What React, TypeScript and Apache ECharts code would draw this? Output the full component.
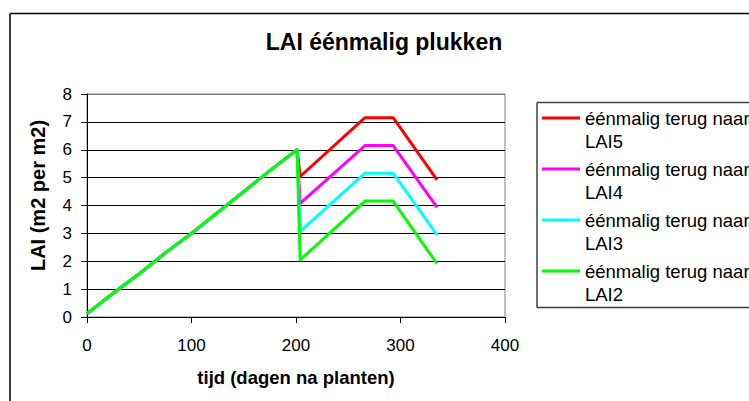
import React, { useEffect, useRef } from "react";
import * as echarts from "echarts";

// Shared growth phase (days after planting, LAI)
const growthDays = [0, 25, 50, 75, 100, 125, 150, 175, 201];
const growthLAI = [0.12, 0.85, 1.55, 2.3, 3.0, 3.75, 4.5, 5.25, 6.0];

// After the single picking
const regrowthDays = [204, 266, 293, 335];
const lai5 = [5.04, 7.15, 7.15, 4.92];
const lai4 = [4.08, 6.15, 6.15, 3.93];
const lai3 = [3.07, 5.16, 5.16, 2.95];
const lai2 = [2.05, 4.16, 4.16, 1.91];

const seriesNames = [
  "éénmalig terug naar LAI5",
  "éénmalig terug naar LAI4",
  "éénmalig terug naar LAI3",
  "éénmalig terug naar LAI2",
];
const seriesValues = [lai5, lai4, lai3, lai2];
const seriesColors = ["#FF0000", "#FF00FF", "#00FFFF", "#00FF00"];

const titleText = "LAI éénmalig plukken";
const xName = "tijd (dagen na planten)";
const yName = "LAI (m2 per m2)";

const FONT = "'Liberation Sans', Arial, Helvetica, sans-serif";
const LEGEND_ICON =
  "path://M0,9L38,9L38,12L0,12Z M0,0L38,0L38,0.01L0,0.01Z M0,45L38,45L38,45.01L0,45.01Z";

export default function App() {
  const ref = useRef<HTMLDivElement>(null);

  useEffect(() => {
    if (!ref.current) return;
    const chart = echarts.init(ref.current, null, { renderer: "svg" });

    const series = seriesNames.map((name, s) => {
      const data: [number, number][] = growthDays.map((d, i) => [d, growthLAI[i]]);
      regrowthDays.forEach((d, i) => data.push([d, seriesValues[s][i]]));
      return {
        name,
        type: "line",
        data,
        symbol: "none",
        lineStyle: { color: seriesColors[s], width: 3, join: "round" },
        itemStyle: { color: seriesColors[s] },
        z: 2 + s,
      };
    });

    const lineStyle = (stroke: string) => ({ stroke, lineWidth: 1.5 });

    chart.setOption({
      animation: false,
      backgroundColor: "#ffffff",
      textStyle: { fontFamily: FONT },
      title: {
        text: titleText,
        left: 384,
        top: 42,
        textAlign: "center",
        textVerticalAlign: "middle",
        padding: 0,
        textStyle: { fontSize: 23, fontWeight: "bold", color: "#000", fontFamily: FONT },
      },
      grid: {
        left: 87,
        top: 94,
        right: 244,
        bottom: 84,
        show: true,
        borderColor: "#808080",
        borderWidth: 1,
        backgroundColor: "transparent",
      },
      legend: {
        orient: "vertical",
        left: 537,
        top: 102,
        padding: [5.5, 4, 1.5, 5],
        itemWidth: 38,
        itemHeight: 45,
        itemGap: 6,
        borderWidth: 0,
        selectedMode: false,
        formatter: (n: string) => n.replace(" LAI", "\nLAI"),
        textStyle: { fontSize: 18.5, lineHeight: 22.5, color: "#000", fontFamily: FONT },
        data: seriesNames.map((name, i) => ({
          name,
          icon: LEGEND_ICON,
          itemStyle: { color: seriesColors[i], borderWidth: 0, borderColor: "transparent" },
        })),
      },
      xAxis: {
        type: "value",
        min: 0,
        max: 400,
        interval: 100,
        name: xName,
        nameLocation: "middle",
        nameGap: 51,
        nameTextStyle: { fontSize: 18.5, fontWeight: "bold", color: "#000", fontFamily: FONT },
        axisLine: { show: true, lineStyle: { color: "#000", width: 1 } },
        axisTick: { show: true, length: 6, inside: false, lineStyle: { color: "#000" } },
        axisLabel: { fontSize: 17, color: "#000", margin: 20, fontFamily: FONT },
        splitLine: { show: false },
      },
      yAxis: {
        type: "value",
        min: 0,
        max: 8,
        interval: 1,
        name: yName,
        nameLocation: "middle",
        nameGap: 39,
        nameRotate: 90,
        nameTextStyle: {
          fontSize: 20,
          fontWeight: "bold",
          color: "#000",
          fontFamily: FONT,
          padding: [0, 0, 0, 20],
        },
        axisLine: { show: true, lineStyle: { color: "#000", width: 1 } },
        axisTick: { show: true, length: 6, inside: false, lineStyle: { color: "#000" } },
        axisLabel: { fontSize: 17, color: "#000", margin: 15, fontFamily: FONT },
        splitLine: {
          show: true,
          lineStyle: {
            color: ["#000", "#000", "#000", "#000", "#000", "#000", "#000", "#000", "#808080"],
            width: 1,
          },
        },
      },
      graphic: [
        // outer chart frame (continues beyond the right and bottom edges)
        { type: "line", silent: true, shape: { x1: 10, y1: 13.5, x2: 749, y2: 13.5 }, style: lineStyle("#000") },
        { type: "line", silent: true, shape: { x1: 10, y1: 13.5, x2: 10, y2: 401 }, style: lineStyle("#000") },
        // legend frame (its right side lies beyond the visible area)
        { type: "line", silent: true, shape: { x1: 537, y1: 102.5, x2: 749, y2: 102.5 }, style: lineStyle("#404040") },
        { type: "line", silent: true, shape: { x1: 537, y1: 307.5, x2: 749, y2: 307.5 }, style: lineStyle("#404040") },
        { type: "line", silent: true, shape: { x1: 537, y1: 102.5, x2: 537, y2: 307.5 }, style: lineStyle("#404040") },
      ],
      series,
    });

    return () => chart.dispose();
  }, []);

  return (
    <div
      ref={ref}
      style={{ position: "absolute", left: 0, top: 0, width: 749, height: 401 }}
    />
  );
}
